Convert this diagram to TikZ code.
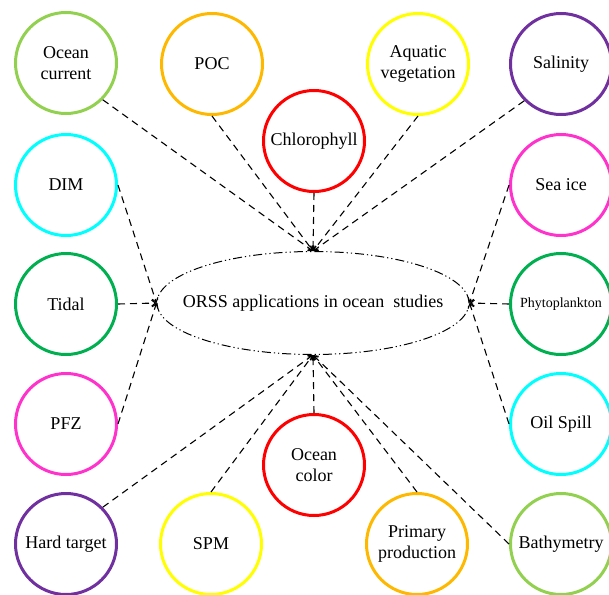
\documentclass[tikz,border=0pt]{standalone}
\usepackage{fontspec}
\setmainfont{Liberation Serif}
\definecolor{lgreen}{HTML}{92D050}
\definecolor{orng}{HTML}{FFB800}
\definecolor{ylw}{HTML}{FFFF00}
\definecolor{purp}{HTML}{7030A0}
\definecolor{rd}{HTML}{FF0000}
\definecolor{cyn}{HTML}{00FFFF}
\definecolor{mgnt}{HTML}{FF33CC}
\definecolor{dgreen}{HTML}{00B050}
\usetikzlibrary{arrows.meta,shapes.geometric}
\begin{document}
\begin{tikzpicture}[x=1pt, y=-1pt,
  font=\fontsize{18}{21.5}\selectfont,
  app/.style={circle, draw=#1, line width=3pt, minimum size=101pt,
              inner sep=0pt, align=center},
  hub/.style={ellipse, draw, line width=1pt, inner sep=0pt,
              dash pattern=on 9pt off 3pt on 1.2pt off 3pt on 1.2pt off 3pt,
              minimum width=312pt, minimum height=103pt},
  link/.style={dash pattern=on 7pt off 5pt, line width=1.1pt,
               -{Straight Barb[length=4pt,width=6pt]}},
]
  \useasboundingbox (0,0) rectangle (609,594);

  \node[app=lgreen] (ocur)   at (66,63)   {Ocean\\current};
  \node[app=orng]   (poc)    at (212,64)  {POC};
  \node[app=ylw]    (aqveg)  at (418,64)  {Aquatic\\vegetation};
  \node[app=purp]   (sal)    at (561,64)  {Salinity};
  \node[app=rd]     (chl)    at (314,141) {Chlorophyll};
  \node[app=cyn]    (dim)    at (66,185)  {DIM};
  \node[app=mgnt]   (seaice) at (561,185) {Sea ice};
  \node[app=dgreen] (tidal)  at (66,304)  {Tidal};
  \node[app=dgreen, font=\fontsize{14}{17}\selectfont]
                    (phyto)  at (561,304) {Phytoplankton};
  \node[app=mgnt]   (pfz)    at (66,424)  {PFZ};
  \node[app=cyn]    (oil)    at (561,424) {Oil Spill};
  \node[app=rd]     (ocol)   at (314,465) {Ocean\\color};
  \node[app=purp]   (hard)   at (66,544)  {Hard target};
  \node[app=ylw]    (spm)    at (211,544) {SPM};
  \node[app=orng]   (prim)   at (417,544) {Primary\\production};
  \node[app=lgreen] (bathy)  at (561,544) {Bathymetry};
  \node[hub]        (orss)   at (313,303)
    {\makebox[0pt]{ORSS applications in ocean\ \ studies}};

  \draw[link] (ocur.south east) -- (orss.north);
  \draw[link] (poc.south)       -- (orss.north);
  \draw[link] (chl.south)       -- (orss.north);
  \draw[link] (aqveg.south)     -- (orss.north);
  \draw[link] (sal.south west)  -- (orss.north);
  \draw[link] (dim.east)        -- (orss.west);
  \draw[link] (tidal.east)      -- (orss.west);
  \draw[link] (pfz.east)        -- (orss.west);
  \draw[link] (seaice.west)     -- (orss.east);
  \draw[link] (phyto.west)      -- (orss.east);
  \draw[link] (oil.west)        -- (orss.east);
  \draw[link] (hard.north east) -- (orss.south);
  \draw[link] (spm.north)       -- (orss.south);
  \draw[link] (ocol.north)      -- (orss.south);
  \draw[link] (prim.north)      -- (orss.south);
  \draw[link] (bathy.west)      -- (orss.south);
\end{tikzpicture}
\end{document}
